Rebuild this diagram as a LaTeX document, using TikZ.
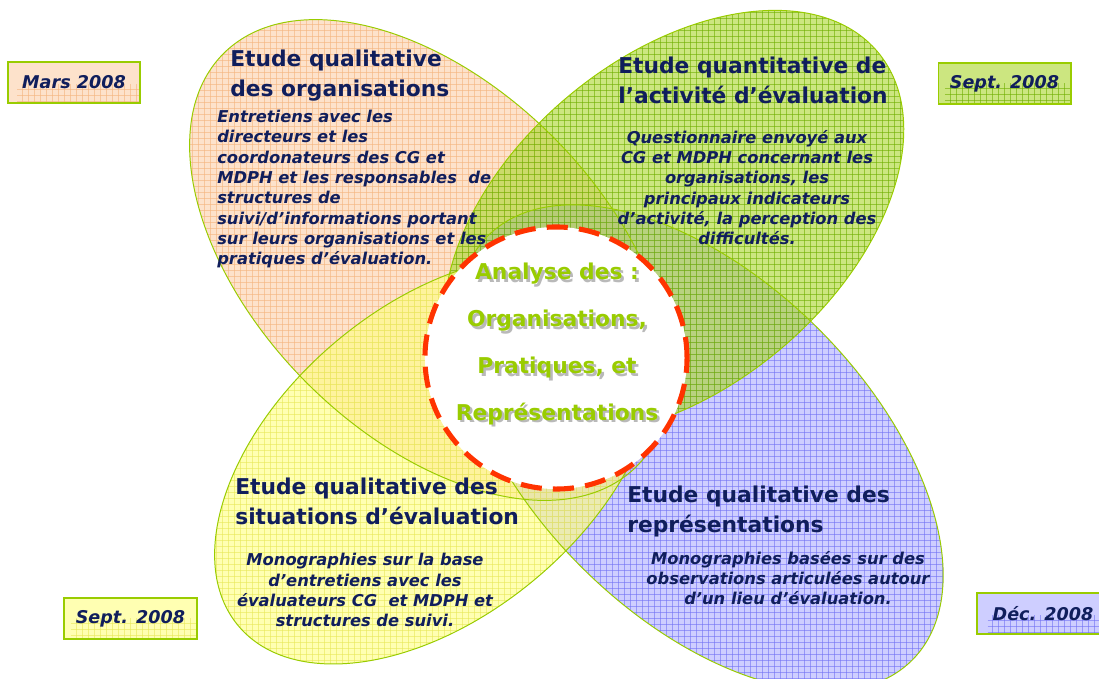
\documentclass[tikz,border=0pt]{standalone}
\usepackage{fontspec}
\setmainfont{DejaVu Sans}
\usetikzlibrary{positioning}

\definecolor{navy}{RGB}{16,30,92}
\definecolor{limegreen}{RGB}{153,204,0}
\definecolor{dashred}{RGB}{255,51,0}
\definecolor{orfill}{RGB}{252,207,168}
\definecolor{orgrid}{RGB}{245,180,125}
\definecolor{grfill}{RGB}{170,213,43}
\definecolor{grgrid}{RGB}{110,175,0}
\definecolor{yefill}{RGB}{255,255,127}
\definecolor{yegrid}{RGB}{232,232,90}
\definecolor{blfill}{RGB}{173,173,255}
\definecolor{blgrid}{RGB}{115,115,245}
\definecolor{shadowgrey}{RGB}{185,185,185}

% fine grid over the whole sheet (used inside a clip)
\newcommand{\gridlines}[1]{%
  \foreach \gx in {0,6,...,1104} \draw[#1,line width=0.25pt,draw opacity=0.6] (\gx,-5) -- (\gx,685);
  \foreach \gy in {0,6,...,684} \draw[#1,line width=0.25pt,draw opacity=0.6] (-5,\gy) -- (1110,\gy);
}

\tikzset{
  title/.style={text=navy, font=\bfseries\fontsize{15.5}{21}\selectfont, align=left, inner sep=0pt},
  body/.style={text=navy, font=\bfseries\itshape\fontsize{11.6}{14.45}\selectfont, inner sep=0pt},
  datebox/.style={draw=limegreen, line width=1.4pt, minimum width=3.3cm, minimum height=1.03cm,
    fill opacity=0.6, draw opacity=1, text opacity=1,
    text=navy, font=\bfseries\itshape\fontsize{12.5}{14}\selectfont},
  petal/.style={draw=limegreen, line width=0.7pt},
  veil/.style={fill opacity=0.6},
  analyse/.style={text=limegreen, align=center, font=\bfseries\fontsize{15.5}{33.4}\selectfont},
  textshadow/.style={text=shadowgrey, align=center, font=\bfseries\fontsize{15.5}{33.4}\selectfont},
}

\begin{document}
\begin{tikzpicture}[x=0.025cm, y=-0.025cm]
\useasboundingbox (0,0) rectangle (1099,678);

% the four petals, yellow on top
\begin{scope}
  \clip[rotate around={-45:(430,260)}] (430,260) ellipse [x radius=292, y radius=174];
  \fill[orfill, veil] (-5,-5) rectangle (1110,685);
  \gridlines{orgrid}
\end{scope}
\begin{scope}
  \clip[rotate around={-45:(700,448)}] (700,448) ellipse [x radius=300, y radius=168];
  \fill[blfill, veil] (-5,-5) rectangle (1110,685);
  \gridlines{blgrid}
\end{scope}
\begin{scope}
  \clip[rotate around={40:(674,223)}] (674,223) ellipse [x radius=266, y radius=165];
  \fill[grfill, veil] (-5,-5) rectangle (1110,685);
  \gridlines{grgrid}
\end{scope}
\begin{scope}
  \clip[rotate around={40:(436,460)}] (436,460) ellipse [x radius=258, y radius=155];
  \fill[yefill, veil] (-5,-5) rectangle (1110,685);
  \gridlines{yegrid}
\end{scope}
\draw[petal, rotate around={-45:(430,260)}] (430,260) ellipse [x radius=292, y radius=174];
\draw[petal, rotate around={-45:(700,448)}] (700,448) ellipse [x radius=300, y radius=168];
\draw[petal, rotate around={40:(674,223)}] (674,223) ellipse [x radius=266, y radius=165];
\draw[petal, rotate around={40:(436,460)}] (436,460) ellipse [x radius=258, y radius=155];

% centre
\node[circle, fill=white, draw=dashred, line width=3.6pt, dash pattern=on 15pt off 8pt,
  minimum size=6.55cm, inner sep=0pt] (cercle) at (556,358) {};
\node[textshadow] (ombre) at (559.5,346.5) {Analyse des :\\Organisations,\\Pratiques, et\\Représentations};
\node[analyse] (analyse) at (557,344) {Analyse des :\\Organisations,\\Pratiques, et\\Représentations};

% titles and texts
\node[title, anchor=north west] (orgtitre) at (230,50) {Etude qualitative\\des organisations};
\node[body, anchor=north west, align=left] (orgtexte) at (217,110) {Entretiens avec les\\directeurs et les\\coordonateurs des CG et\\MDPH et les responsables\ \ de\\structures de\\suivi/d’informations portant\\sur leurs organisations et les\\pratiques d’évaluation.};

\node[title, anchor=north west] (quanttitre) at (618,57) {Etude quantitative de\\l’activité d’évaluation};
\node[body, anchor=north, align=center] (quanttexte) at (747,130) {Questionnaire envoyé aux\\CG et MDPH concernant les\\organisations, les\\principaux indicateurs\\d’activité, la perception des\\difficultés.};

\node[title, anchor=north west] (sittitre) at (235,478) {Etude qualitative des\\situations d’évaluation};
\node[body, anchor=north, align=center] (sittexte) at (365,553) {Monographies sur la base\\d’entretiens avec les\\évaluateurs CG\ \ et MDPH et\\structures de suivi.};

\node[title, anchor=north west] (reptitre) at (627,486) {Etude qualitative des\\représentations};
\node[body, anchor=north, align=center] (reptexte) at (788,551) {Monographies basées sur des\\observations articulées autour\\d’un lieu d’évaluation.};

% dates
\node[datebox, fill=orfill, path picture={\gridlines{orgrid}}] (mars) at (74,82.5) {Mars 2008};
\node[datebox, fill=grfill, path picture={\gridlines{grgrid}}] (septhaut) at (1004.5,83.5) {Sept. 2008};
\node[datebox, fill=yefill, path picture={\gridlines{yegrid}}] (septbas) at (130.5,618.5) {Sept. 2008};
\node[datebox, fill=blfill, path picture={\gridlines{blgrid}}] (dec) at (1043,613.5) {Déc. 2008};
\end{tikzpicture}
\end{document}
